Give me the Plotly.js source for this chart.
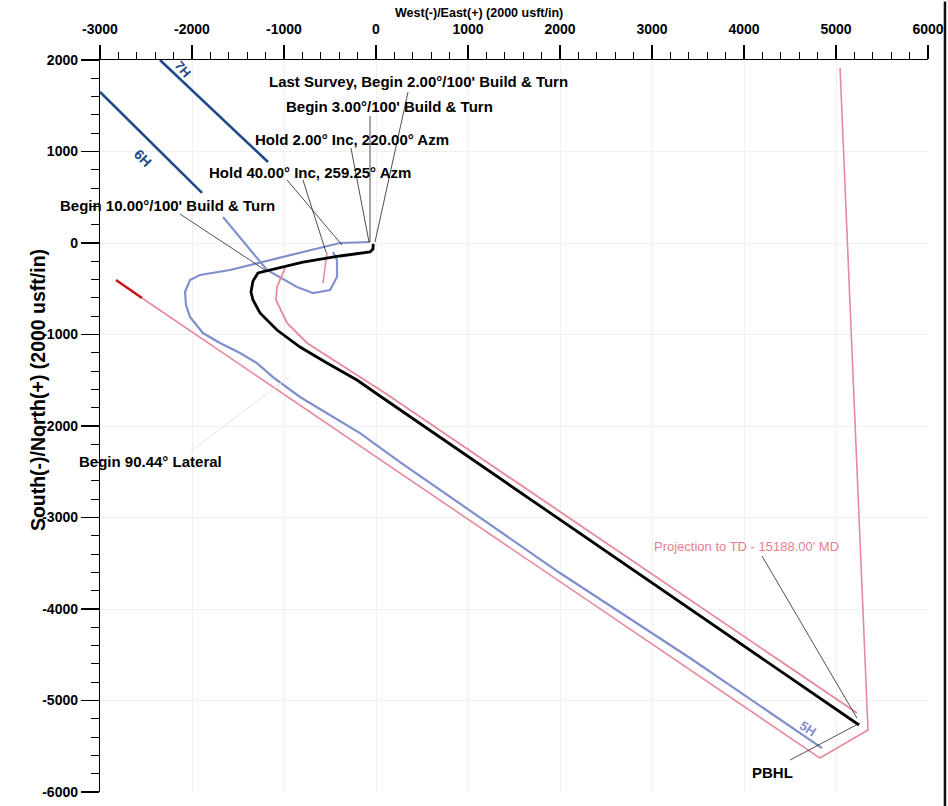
<!DOCTYPE html>
<html>
<head>
<meta charset="utf-8">
<script src="https://cdn.plot.ly/plotly-3.0.1.min.js"></script>
<style>html,body{margin:0;padding:0;background:#fff;}</style>
</head>
<body>
<div id="chart" style="width:948px;height:806px;"></div>
<script>
// ---- Data (usft) : East (+) / North (+) ----
var planE = [-30, -33, -65, -391, -794, -1152, -1283, -1337, -1359, -1337, -1261, -1076, -826, -533, -207, 43, 5250];
var planN = [-10, -66, -98, -142, -208, -295, -328, -415, -536, -623, -765, -951, -1137, -1312, -1497, -1672, -5268];

var pinkWellE = [-989, -1076, -1087, -967, -750, -467, -174, 98, 5228];
var pinkWellN = [-273, -481, -623, -874, -1093, -1279, -1465, -1640, -5137];

var pinkStubE = [-533, -576];
var pinkStubN = [-98, -437];

var w5hE = [-65, -391, -794, -1152, -1587, -1913, -2022, -2076, -2065, -2022, -1881, -1696, -1478, -1294, -1120, -826, -467, -174, 261, 2000, 3413, 4848];
var w5hN = [11, 0, -98, -186, -295, -350, -404, -536, -678, -809, -984, -1093, -1202, -1312, -1465, -1683, -1902, -2077, -2394, -3607, -4536, -5520];

var w6hUpperE = [-3000, -1891];
var w6hUpperN = [1650, 547];
var w6hLowerE = [-1663, -1185, -859, -685, -500, -424, -424, -467];
var w6hLowerN = [284, -295, -481, -547, -514, -372, -186, -98];

var w7hE = [-2348, -1174];
var w7hN = [2000, 885];

var lineRedE = [-2826, -2544];
var lineRedN = [-404, -601];
var hardlineE = [-2544, 4826, 5348, 5044];
var hardlineN = [-601, -5629, -5323, 1913];

var xTickVals = [-3000, -2000, -1000, 0, 1000, 2000, 3000, 4000, 5000, 6000];
var xTickText = ['-3000', '-2000', '-1000', '0', '1000', '2000', '3000', '4000', '5000', '6000'];
var yTickVals = [2000, 1000, 0, -1000, -2000, -3000, -4000, -5000, -6000];
var yTickText = ['2000', '1000', '0', '-1000', '-2000', '-3000', '-4000', '-5000', '-6000'];

var FONT = 'Liberation Sans, Arial, sans-serif';

function tr(x, y, color, width) {
  return {x: x, y: y, type: 'scatter', mode: 'lines', hoverinfo: 'skip',
          line: {color: color, width: width}, showlegend: false};
}

var traces = [
  tr(hardlineE, hardlineN, '#e8899a', 1.6),
  tr(lineRedE, lineRedN, '#cc1414', 2.6),
  tr(w7hE, w7hN, '#1f4a8a', 2.6),
  tr(w6hUpperE, w6hUpperN, '#1f4a8a', 2.6),
  tr(w6hLowerE, w6hLowerN, '#8393cf', 2.2),
  tr(w5hE, w5hN, '#7f8fcc', 2.2),
  tr(pinkWellE, pinkWellN, '#e8899a', 1.8),
  tr(pinkStubE, pinkStubN, '#e8899a', 1.6),
  tr(planE, planN, '#000000', 2.8)
];

function leader(x0, y0, x1, y1, color, w) {
  return {type: 'line', xref: 'x', yref: 'y', x0: x0, y0: y0, x1: x1, y1: y1,
          line: {color: color || '#222', width: w || 0.8}};
}

var shapes = [
  leader(348, 1650, -11, 11),
  leader(-65, 1388, -65, 11),
  leader(-272, 1038, -76, 11),
  leader(-967, 689, -370, -22),
  leader(-794, 689, -544, -98),
  leader(-2131, 317, -1207, -295),
  leader(4196, -3421, 5228, -5192),
  leader(4500, -5651, 5261, -5246),
  leader(-2022, -2284, -935, -1454, '#e4e4e4', 1),
  {type: 'line', xref: 'paper', yref: 'paper', x0: 1.0205, x1: 1.0205, y0: -0.02, y1: 1.08,
   line: {color: '#111', width: 2.5}}
];

function lab(x, y, text, opts) {
  var a = {x: x, y: y, xref: 'x', yref: 'y', text: text, showarrow: false,
           font: {family: FONT, size: 15, color: '#000', weight: 'bold'}};
  for (var k in opts) a[k] = opts[k];
  return a;
}

var annotations = [
  lab(467, 1760, "Last Survey, Begin 2.00°/100' Build & Turn"),
  lab(152, 1487, "Begin 3.00°/100' Build & Turn"),
  lab(-261, 1126, "Hold 2.00° Inc, 220.00° Azm"),
  lab(-717, 776, "Hold 40.00° Inc, 259.25° Azm"),
  lab(-2261, 415, "Begin 10.00°/100' Build & Turn"),
  lab(-2446, -2383, "Begin 90.44° Lateral"),
  lab(4022, -3312, "Projection to TD - 15188.00' MD", {font: {family: FONT, size: 13, color: '#e57f8d'}}),
  lab(4315, -5782, "PBHL"),
  lab(4696, -5301, "5H", {textangle: 34, font: {family: FONT, size: 13, color: '#7f8fcc', weight: 'bold'}}),
  lab(-2533, 929, "6H", {textangle: 45, font: {family: FONT, size: 14, color: '#1f4a8a', weight: 'bold'}}),
  lab(-2098, 1891, "7H", {textangle: 50, font: {family: FONT, size: 13, color: '#1f4a8a', weight: 'bold'}}),
  // axis titles
  {xref: 'paper', yref: 'paper', x: 0.458, y: 1.077, text: 'West(-)/East(+) (2000 usft/in)', showarrow: false,
   font: {family: FONT, size: 12.5, color: '#000', weight: 'bold'}},
  {xref: 'paper', yref: 'paper', x: -0.0906, y: 0.549, text: 'South(-)/North(+) (2000 usft/in)', showarrow: false,
   textangle: -90, font: {family: FONT, size: 19.5, color: '#000', weight: 'bold'}}
];

var layout = {
  width: 948, height: 806,
  margin: {l: 100, r: 20, t: 60, b: 14},
  paper_bgcolor: '#ffffff', plot_bgcolor: '#ffffff',
  showlegend: false,
  xaxis: {
    side: 'top', range: [-3000, 6000], tickmode: 'array',
    tickvals: xTickVals, ticktext: xTickText,
    ticks: 'outside', ticklen: 14, tickwidth: 1.2, tickcolor: '#000',
    ticklabelstandoff: 5,
    showline: true, linecolor: '#000', linewidth: 1.2,
    zeroline: false, showgrid: true, gridcolor: '#f0f0f0', gridwidth: 1,
    minor: {dtick: 200, tick0: 0, ticks: 'outside', ticklen: 7, tickcolor: '#000', tickwidth: 1, showgrid: false},
    tickfont: {family: FONT, size: 14, color: '#000', weight: 'bold'}
  },
  yaxis: {
    range: [-6000, 2000], tickmode: 'array',
    tickvals: yTickVals, ticktext: yTickText,
    ticks: 'outside', ticklen: 18, tickwidth: 1.2, tickcolor: '#000',
    showline: true, linecolor: '#000', linewidth: 1.2,
    zeroline: false, showgrid: true, gridcolor: '#f0f0f0', gridwidth: 1,
    minor: {dtick: 200, tick0: 0, ticks: 'outside', ticklen: 8, tickcolor: '#000', tickwidth: 1, showgrid: false},
    tickfont: {family: FONT, size: 14, color: '#000', weight: 'bold'}
  },
  shapes: shapes,
  annotations: annotations
};

Plotly.newPlot('chart', traces, layout, {staticPlot: true, displayModeBar: false});
</script>
</body>
</html>
